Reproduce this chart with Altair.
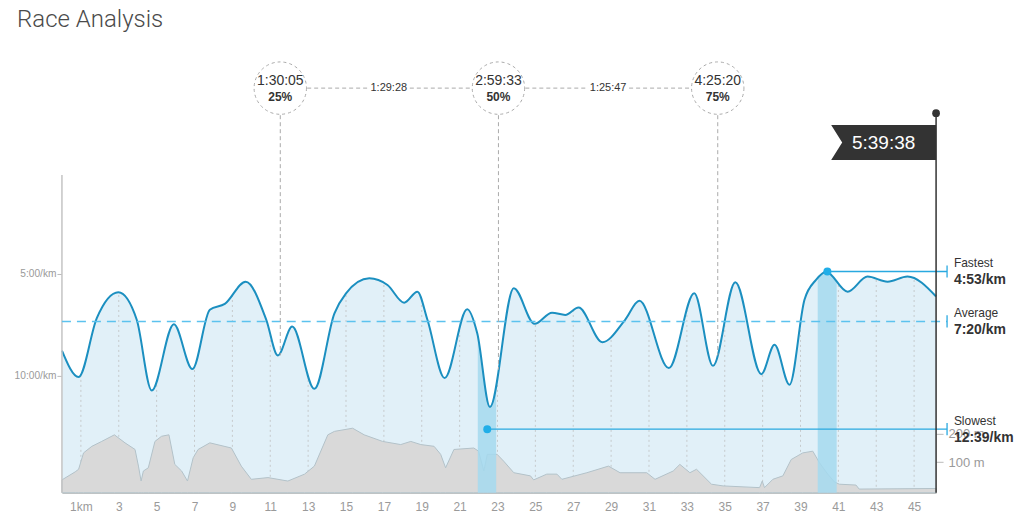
import altair as alt
import pandas as pd

# ---------------- data ----------------
title_text = "Race Analysis"

pace_km = [0.0, 0.88, 1.84, 2.98, 3.95, 4.74, 5.91, 6.89, 7.81, 8.6, 9.70, 10.79, 11.40,
           12.16, 13.33, 14.39, 15.0, 16.23, 17.19, 18.07, 18.77, 19.3, 20.21, 21.4, 21.93,
           22.6, 23.86, 24.96, 25.88, 26.58, 27.28, 28.54, 29.74, 30.49, 32.05, 33.39, 34.38,
           35.56, 36.93, 37.63, 38.42, 39.21, 39.82, 40.35, 41.49, 42.54, 43.6, 44.65, 46.16]
pace_min = [8.76, 10.06, 7.17, 5.90, 7.25, 10.72, 7.47, 9.67, 6.76, 6.47, 5.38, 7.25, 9.0,
            7.58, 10.64, 6.93, 5.95, 5.21, 5.54, 6.41, 5.87, 7.25, 10.11, 6.73, 7.91,
            11.53, 5.70, 7.45, 6.90, 7.01, 6.65, 8.35, 7.25, 6.32, 9.62, 5.95, 9.51,
            5.41, 9.92, 8.48, 10.44, 6.27, 5.29, 4.89, 5.87, 5.13, 5.38, 5.13, 6.11]

elev_km = [0, 0.7, 0.88, 1.14, 1.58, 2.1, 2.77, 3.33, 3.86, 4.04, 4.18, 4.3, 4.56, 4.91, 5.26,
           5.65, 5.96, 6.32, 6.63, 6.93, 7.19, 7.81, 8.95, 9.47, 10.0, 10.88, 11.93, 12.81,
           13.33, 14.04, 14.39, 15.35, 15.96, 16.93, 17.89, 18.42, 18.95, 19.65, 20.0, 20.26,
           20.7, 21.75, 22.0, 22.28, 22.46, 22.98, 23.33, 23.86, 24.74, 24.91, 25.6, 26.14,
           26.4, 27.72, 28.86, 29.47, 30.88, 31.32, 32.28, 32.63, 33.16, 33.51, 34.3, 34.91,
           36.84, 36.98, 37.1, 37.54, 38.07, 38.51, 39.12, 39.65, 40.0, 40.44, 40.79, 41.05,
           41.93, 42.1, 46.16]
elev_m = [38, 66, 75, 132, 155, 172, 195, 167, 144, 86, 34, 69, 80, 172, 190,
          195, 92, 69, 34, 115, 144, 167, 149, 86, 40, 46, 34, 58,
          86, 195, 207, 218, 195, 172, 161, 172, 161, 155, 127, 80,
          144, 149, 138, 69, 127, 127, 103, 63, 52, 38, 58, 58,
          40, 63, 86, 63, 63, 40, 69, 92, 63, 75, 23, 17,
          11, 34, 11, 40, 52, 109, 132, 138, 98, 58, 31, 23,
          20, 6, 8]

grid_km = list(range(1, 46, 2))

band_start = [21.96, 39.91]
band_end = [22.93, 40.91]

marker_name = ["Fastest", "Average", "Slowest"]
marker_value = ["4:53/km", "7:20/km", "12:39/km"]
marker_pace = [4.88, 7.333, 12.62]
marker_dot_km = [40.42, None, 22.46]

milestone_km = [11.53, 23.05, 34.63]
milestone_time = ["1:30:05", "2:59:33", "4:25:20"]
milestone_pct = ["25%", "50%", "75%"]
milestone_curve_pace = [9.0, 9.7, 9.0]

split_km = [17.26, 28.84]
split_time = ["1:29:28", "1:25:47"]

finish_time = "5:39:38"

# ---------------- layout constants (scale domains) ----------------
X_MAX = 46.16
PACE_TOP = 0.15
PACE_BOTTOM = 15.74
PACE_DOMAIN = [-5.49, 15.74]
ELEV_DOMAIN = [-6.9, 1500]
ROW_TITLE = -7.45
TITLE_KM = -2.37
ROW_CIRCLE = -4.12
ROW_TIME = -4.46
ROW_PCT = -3.68
ROW_CIRCLE_BOTTOM = -2.79
FLAG_ROW = -1.45
FLAG_KM = 43.39
POLE_TOP = -2.89
LABEL_KM = 47.1
TICK_KM = 46.74

FONT = "Liberation Sans"

xs = alt.Scale(domain=[0, X_MAX], nice=False, zero=False)
ys = alt.Scale(domain=PACE_DOMAIN, reverse=True, nice=False, zero=False)
es = alt.Scale(domain=ELEV_DOMAIN, nice=False, zero=False)

x_axis = alt.Axis(values=grid_km, labelExpr="datum.value == 1 ? '1km' : datum.value",
                  ticks=False, domainColor="#c4c4c4", domainWidth=1.5, labelPadding=9,
                  labelColor="#9a9a9a", labelFontSize=12, labelFont=FONT, grid=False,
                  title=None, labelFlush=False)


def X(f):
    return alt.X(f, type="quantitative", scale=xs, axis=x_axis)


def Y(f):
    return alt.Y(f, type="quantitative", scale=ys, axis=None)


pace_df = pd.DataFrame({"km": pace_km, "pace": pace_min})
pace_df["top"] = PACE_TOP
pace_df["bottom"] = PACE_BOTTOM

elev_df = pd.DataFrame({"km": elev_km, "m": elev_m})
elev_df["base"] = ELEV_DOMAIN[0]

# 1. light blue area under the curve
blue_area = alt.Chart(pace_df).mark_area(interpolate="monotone", color="#e1f0f8", opacity=1).encode(
    x=X("km:Q"), y=Y("pace:Q"), y2="bottom:Q")

# 2. dotted grid
grid_df = pd.DataFrame({"km": grid_km})
grid_df["top"] = PACE_TOP
grid_df["bottom"] = PACE_BOTTOM
grid = alt.Chart(grid_df).mark_rule(color="#c6cacc", strokeDash=[2, 3], strokeWidth=1).encode(
    x=X("km:Q"), y=Y("top:Q"), y2="bottom:Q")

# 3. elevation
e_axis = alt.Axis(orient="right", values=[100, 200], labelExpr="datum.value + ' m'",
                  domain=False, tickSize=7, tickColor="#bbbbbb", labelPadding=5,
                  labelColor="#9a9a9a", labelFontSize=13, labelFont=FONT, grid=False, title=None)
elev = alt.Chart(elev_df).mark_area(color="#d9d9d9", stroke="#b3c2c9", strokeWidth=1,
                                    opacity=1).encode(
    x=X("km:Q"), y=alt.Y("m:Q", scale=es, axis=e_axis), y2="base:Q")

# 4. highlighted km bands
band_df = pd.DataFrame({"s": band_start, "e": band_end})
band_df["top"] = PACE_TOP
band_df["bottom"] = PACE_BOTTOM
bands = alt.Chart(band_df).mark_rect(color="#a5d9ee", opacity=0.85).encode(
    x=X("s:Q"), x2="e:Q", y=Y("top:Q"), y2="bottom:Q")

# 5. white mask above the curve
mask = alt.Chart(pace_df).mark_area(interpolate="monotone", color="white", opacity=1).encode(
    x=X("km:Q"), y=Y("pace:Q"), y2="top:Q")

# 6. pace line with left axis
y_axis = alt.Axis(values=[5, 10], labelExpr="datum.value + ':00/km'", domain=False,
                  tickSize=5, tickColor="#bbbbbb", labelPadding=1, labelColor="#9a9a9a",
                  labelFontSize=10.2, labelFont=FONT, grid=False, title=None, orient="left")
line = alt.Chart(pace_df).mark_line(interpolate="monotone", color="#1b8fc0", strokeWidth=2).encode(
    x=X("km:Q"), y=alt.Y("pace:Q", scale=ys, axis=y_axis))

# left axis line
axis_df = pd.DataFrame({"km": [0.0], "top": [PACE_TOP], "bottom": [PACE_BOTTOM]})
left_axis = alt.Chart(axis_df).mark_rule(color="#c4c4c4", strokeWidth=1.5).encode(
    x=X("km:Q"), y=Y("top:Q"), y2="bottom:Q")

# 7. markers (fastest / average / slowest)
mk_df = pd.DataFrame({"name": marker_name, "value": marker_value, "pace": marker_pace,
                      "dot": marker_dot_km})
mk_df["start"] = mk_df["dot"].fillna(0.0)
mk_df["end"] = TICK_KM
mk_df["t1"] = mk_df["pace"] - 0.3
mk_df["t2"] = mk_df["pace"] + 0.3
mk_df["lab"] = LABEL_KM
mk_df["name_y"] = mk_df["pace"] - 0.42
mk_df["value_y"] = mk_df["pace"] + 0.42

solid_df = mk_df[mk_df["name"] != "Average"]
avg_df = mk_df[mk_df["name"] == "Average"]

solid_lines = alt.Chart(solid_df).mark_rule(color="#29a9e0", strokeWidth=1.3).encode(
    x=X("start:Q"), x2="end:Q", y=Y("pace:Q"))
avg_line = alt.Chart(avg_df).mark_rule(color="#5cc2ee", strokeWidth=1.6, strokeDash=[9, 6]).encode(
    x=X("start:Q"), x2="end:Q", y=Y("pace:Q"))
end_ticks = alt.Chart(mk_df).mark_rule(color="#29a9e0", strokeWidth=1.3).encode(
    x=X("end:Q"), y=Y("t1:Q"), y2="t2:Q")
dots = alt.Chart(solid_df).mark_point(shape="circle", filled=True, color="#21aee8", size=64,
                                      opacity=1).encode(x=X("dot:Q"), y=Y("pace:Q"))
mk_names = alt.Chart(mk_df).mark_text(align="left", baseline="middle", font=FONT, fontSize=12,
                                      color="#333").encode(
    x=X("lab:Q"), y=Y("name_y:Q"), text="name:N")
mk_values = alt.Chart(mk_df).mark_text(align="left", baseline="middle", font=FONT, fontSize=14,
                                       fontWeight="bold", color="#333").encode(
    x=X("lab:Q"), y=Y("value_y:Q"), text="value:N")

# 8. milestones
ms_df = pd.DataFrame({"km": milestone_km, "time": milestone_time, "pct": milestone_pct,
                      "curve": milestone_curve_pace})
ms_df["c"] = ROW_CIRCLE
ms_df["t"] = ROW_TIME
ms_df["p"] = ROW_PCT
ms_df["cb"] = ROW_CIRCLE_BOTTOM
ms_vlines = alt.Chart(ms_df).mark_rule(color="#aaaaaa", strokeDash=[4, 3], strokeWidth=1).encode(
    x=X("km:Q"), y=Y("cb:Q"), y2="curve:Q")
ms_circles = alt.Chart(ms_df).mark_point(shape="circle", filled=False, color="#aaaaaa", size=2750,
                                         strokeWidth=1, strokeDash=[3, 3], opacity=1).encode(
    x=X("km:Q"), y=Y("c:Q"))
ms_time = alt.Chart(ms_df).mark_text(font=FONT, fontSize=14, color="#333", baseline="middle").encode(
    x=X("km:Q"), y=Y("t:Q"), text="time:N")
ms_pct = alt.Chart(ms_df).mark_text(font=FONT, fontSize=12, fontWeight="bold", color="#333",
                                    baseline="middle").encode(
    x=X("km:Q"), y=Y("p:Q"), text="pct:N")

# connectors between milestone circles, broken around the split labels
conn_start = [12.95, 18.37, 24.47, 29.95]
conn_end = [16.16, 21.63, 27.74, 33.21]
conn_df = pd.DataFrame({"s": conn_start, "e": conn_end})
conn_df["c"] = ROW_CIRCLE
conns = alt.Chart(conn_df).mark_rule(color="#aaaaaa", strokeDash=[4, 3], strokeWidth=1).encode(
    x=X("s:Q"), x2="e:Q", y=Y("c:Q"))
split_df = pd.DataFrame({"km": split_km, "time": split_time})
split_df["c"] = ROW_CIRCLE
splits = alt.Chart(split_df).mark_text(font=FONT, fontSize=11, color="#333", baseline="middle").encode(
    x=X("km:Q"), y=Y("c:Q"), text="time:N")

# 9. finish flag
pole_df = pd.DataFrame({"km": [X_MAX], "top": [POLE_TOP], "bottom": [PACE_BOTTOM]})
pole = alt.Chart(pole_df).mark_rule(color="#333333", strokeWidth=1.5).encode(
    x=X("km:Q"), y=Y("top:Q"), y2="bottom:Q")
pole_dot = alt.Chart(pole_df).mark_point(shape="circle", filled=True, color="#333333", size=60,
                                         opacity=1).encode(x=X("km:Q"), y=Y("top:Q"))
flag_df = pd.DataFrame({"km": [FLAG_KM], "y": [FLAG_ROW], "label": [finish_time]})
flag_shape = "M-1,-0.333L1,-0.333L1,0.333L-1,0.333L-0.79,0Z"
flag = alt.Chart(flag_df).mark_point(shape=flag_shape, filled=True, color="#333333", size=11025,
                                     opacity=1, strokeWidth=0).encode(x=X("km:Q"), y=Y("y:Q"))
flag_text = alt.Chart(flag_df).mark_text(font=FONT, fontSize=19, color="white",
                                         baseline="middle").encode(
    x=X("km:Q"), y=Y("y:Q"), text="label:N")

# 10. title
title_df = pd.DataFrame({"km": [TITLE_KM], "y": [ROW_TITLE], "label": [title_text]})
title = alt.Chart(title_df).mark_text(font="Roboto", fontWeight=300, fontSize=24, color="#4a4a4a",
                                      align="left", baseline="middle").encode(
    x=X("km:Q"), y=Y("y:Q"), text="label:N")

chart = alt.layer(
    blue_area, grid, elev, bands, mask, line, left_axis,
    avg_line, solid_lines, end_ticks, dots, mk_names, mk_values,
    ms_vlines, conns, ms_circles, ms_time, ms_pct, splits,
    pole, pole_dot, flag, flag_text, title,
).resolve_scale(y="independent").properties(
    width=875, height=433,
    autosize=alt.AutoSizeParams(type="none"),
    padding={"left": 54, "top": 52, "right": 80, "bottom": 25},
).configure_view(stroke=None)

chart.save("out.html", embed_options={"renderer": "svg", "actions": False})
